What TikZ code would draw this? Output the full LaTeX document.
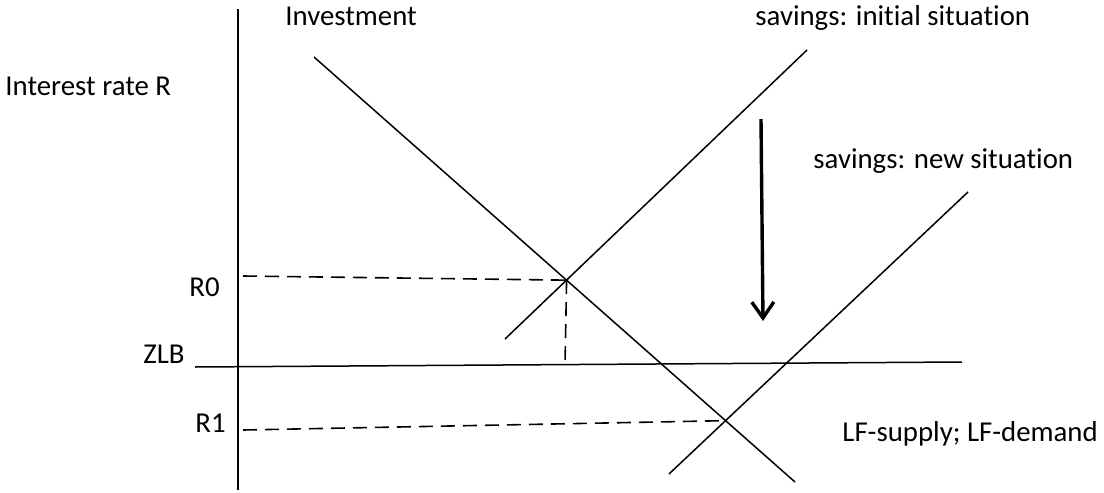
\documentclass[tikz,border=0pt]{standalone}
\usepackage{fontspec}
\setmainfont{Carlito}[Ligatures={NoCommon,NoRare,NoContextual}]
\usepackage{tikz}
\usetikzlibrary{arrows.meta, positioning, calc}
\tikzset{%
	curve/.style={line width=0.75pt},
	guide/.style={line width=0.8pt, dash pattern=on 7pt off 4pt},
	drop/.style={-{Straight Barb[length=8pt, width=11pt]}, line width=1.7pt},
	lbl/.style={inner sep=0pt, font=\fontsize{14.4}{17}\selectfont}
}
\begin{document}
\begin{tikzpicture}[x=0.5pt, y=-0.5pt]
	\useasboundingbox (0,0) rectangle (1104,493);

	% axis and zero lower bound
	\coordinate (ytop) at (238,9);
	\coordinate (ybot) at (238,490);
	\coordinate (zlbL) at (195,367);
	\coordinate (zlbR) at (962,362);

	% curve end points
	\coordinate (invT) at (314,57);
	\coordinate (invB) at (795,482);
	\coordinate (siB) at (505,339);
	\coordinate (siT) at (807,50);
	\coordinate (snB) at (669,474);
	\coordinate (snT) at (968,192);
	\coordinate (eq0) at (intersection of invT--invB and siB--siT);
	\coordinate (eq1) at (intersection of invT--invB and snB--snT);
	\coordinate (r0L) at (243,276);
	\coordinate (r1L) at (243,430);
	\coordinate (eq0z) at (565,366);
	\coordinate (dropT) at (761,119);
	\coordinate (dropB) at (763,321);

	% labels
	\node[lbl, anchor=base west] (rate) at (5,95) {Interest rate R};
	\node[lbl, anchor=base west] (inv) at (285,25) {Investment};
	\node[lbl, anchor=base west] (sinit) at (755,25) {savings: initial situation};
	\node[lbl, anchor=base west] (snew) at (813,168) {savings: new situation};
	\node[lbl, anchor=base west] (lf) at (842,441) {LF-supply; LF-demand};
	\node[lbl, anchor=base east] (r0) at (220,296) {R0};
	\node[lbl, anchor=base east] (zlb) at (185,363) {ZLB};
	\node[lbl, anchor=base east] (r1) at (226,432) {R1};

	\draw[curve] (ytop) -- (ybot);
	\draw[curve] (zlbL) -- (zlbR);
	\draw[curve] (invT) -- (invB);
	\draw[curve] (siB) -- (siT);
	\draw[curve] (snB) -- (snT);
	\draw[guide] (r0L) -- (eq0);
	\draw[guide] (eq0) -- (eq0z);
	\draw[guide] (r1L) -- (eq1);
	\draw[drop] (dropT) -- (dropB);
\end{tikzpicture}
\end{document}
